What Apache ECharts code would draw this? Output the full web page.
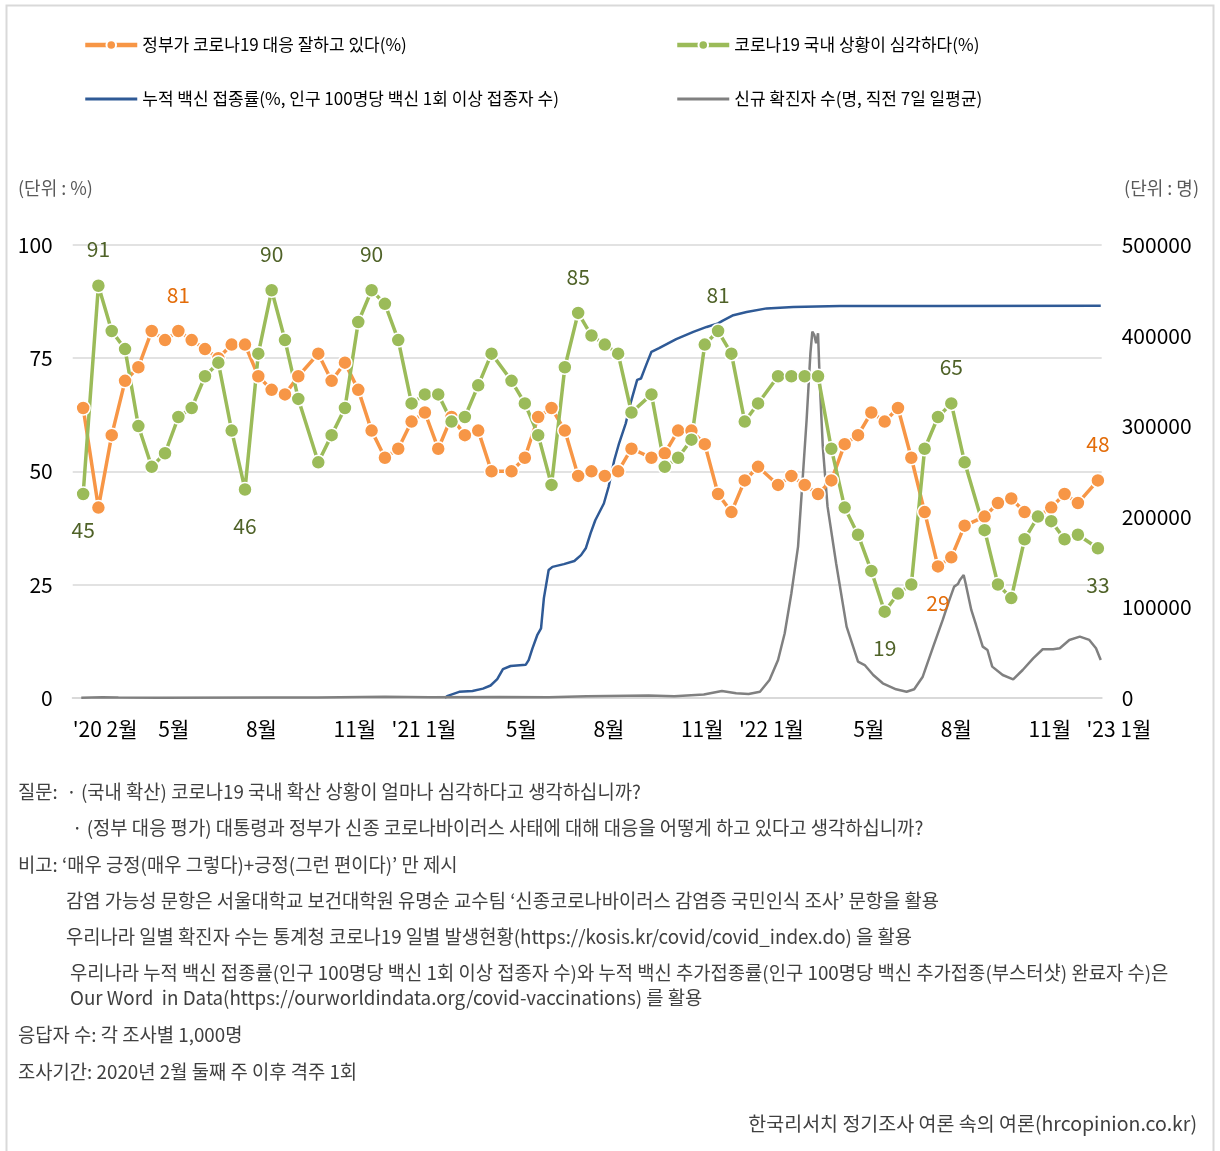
<!DOCTYPE html>
<html>
<head>
<meta charset="utf-8">
<script src="https://cdn.jsdelivr.net/npm/echarts@6/dist/echarts.min.js"></script>
<style>
  html, body { margin: 0; padding: 0; background: #fff; }
  #chart { width: 1220px; height: 1151px; }
</style>
</head>
<body>
<div id="chart"></div>
<script>
// 격주 조사 시점
const surveyDates = [
  '2020-02-12','2020-02-28','2020-03-13','2020-03-27','2020-04-10','2020-04-24','2020-05-08','2020-05-22',
  '2020-06-05','2020-06-19','2020-07-03','2020-07-17','2020-07-31','2020-08-14','2020-08-28','2020-09-11',
  '2020-09-25','2020-10-16','2020-10-30','2020-11-13','2020-11-27','2020-12-11','2020-12-25',
  '2021-01-08','2021-01-22','2021-02-05','2021-02-19','2021-03-05','2021-03-19','2021-04-02','2021-04-16',
  '2021-05-07','2021-05-21','2021-06-04','2021-06-18','2021-07-02','2021-07-16','2021-07-30','2021-08-13',
  '2021-08-27','2021-09-10','2021-10-01','2021-10-15','2021-10-29','2021-11-12','2021-11-26','2021-12-10','2021-12-24',
  '2022-01-07','2022-01-21','2022-02-11','2022-02-25','2022-03-11','2022-03-25','2022-04-08','2022-04-22',
  '2022-05-06','2022-05-20','2022-06-03','2022-06-17','2022-07-01','2022-07-15','2022-07-29','2022-08-12',
  '2022-08-26','2022-09-16','2022-09-30','2022-10-14','2022-10-28','2022-11-11','2022-11-25','2022-12-09','2022-12-23',
  '2023-01-13'
]
// 정부가 코로나19 대응 잘하고 있다(%)
const govGood = [
  64,42,58,70,73,81,79,81,79,77,75,78,78,71,68,67,71,76,70,74,68,59,53,
  55,61,63,55,62,58,59,50,50,53,62,64,59,49,50,49,50,55,53,54,59,59,56,45,41,
  48,51,47,49,47,45,48,56,58,63,61,64,53,41,29,31,38,40,43,44,41,40,42,45,43,
  48
]
// 코로나19 국내 상황이 심각하다(%)
const serious = [
  45,91,81,77,60,51,54,62,64,71,74,59,46,76,90,79,66,52,58,64,83,90,87,
  79,65,67,67,61,62,69,76,70,65,58,47,73,85,80,78,76,63,67,51,53,57,78,81,76,
  61,65,71,71,71,71,55,42,36,28,19,23,25,55,62,65,52,37,25,22,35,40,39,35,36,
  33
]
// 값 표시할 지점 (index)
const seriousLabelsUp = [1, 14, 21, 36, 46, 63]
const seriousLabelsDown = [0, 12, 58, 73]
const govLabelsUp = [7, 73]
const govLabelsDown = [62]

// 누적 백신 접종률(%)
const vaccineDates = [
  '2021-02-26','2021-03-01','2021-03-13','2021-03-27','2021-04-07','2021-04-15','2021-04-22','2021-04-28',
  '2021-05-06','2021-05-22','2021-05-25','2021-05-29','2021-06-03','2021-06-07','2021-06-10','2021-06-15',
  '2021-06-19','2021-07-01','2021-07-12','2021-07-19','2021-07-24','2021-07-29','2021-08-03','2021-08-12',
  '2021-08-17','2021-08-23','2021-08-28','2021-09-04','2021-09-09','2021-09-16','2021-09-20','2021-09-26',
  '2021-10-01','2021-10-09','2021-10-27','2021-11-14','2021-11-28','2021-12-10','2021-12-15','2021-12-26',
  '2022-01-09','2022-01-30','2022-02-27','2022-04-17','2022-07-31','2023-01-16'
]
const vaccineRate = [
  0,0.4,1.3,1.5,2.0,2.7,4.1,6.3,
  7.0,7.3,8.3,10.9,13.8,15.3,22.0,28.2,
  28.9,29.5,30.2,31.5,33.0,36.3,39.2,42.9,
  46.6,52.5,56.2,60.6,65.0,70.2,70.5,73.8,
  76.4,77.2,79.2,80.8,81.9,82.7,83.3,84.5,
  85.2,86.0,86.3,86.5,86.5,86.6
]

// 신규 확진자 수(명, 직전 7일 일평균)
const caseDates = [
  '2020-02-10','2020-03-03','2020-03-20','2020-05-01','2020-08-28','2020-10-15','2020-12-25','2021-02-10',
  '2021-04-25','2021-06-15','2021-07-25','2021-09-28','2021-10-25','2021-11-25','2021-12-14','2021-12-29',
  '2022-01-11','2022-01-23','2022-02-02','2022-02-11','2022-02-18','2022-02-25','2022-03-04','2022-03-09',
  '2022-03-13','2022-03-17','2022-03-19','2022-03-21','2022-03-23','2022-03-25','2022-03-27','2022-03-30',
  '2022-04-04','2022-04-13','2022-04-24','2022-05-06','2022-05-13','2022-05-22','2022-06-01','2022-06-15',
  '2022-06-26','2022-07-04','2022-07-13','2022-07-24','2022-08-03','2022-08-10','2022-08-15','2022-08-19',
  '2022-08-21','2022-08-25','2022-08-27','2022-09-02','2022-09-07','2022-09-14','2022-09-19','2022-09-24',
  '2022-10-05','2022-10-16','2022-10-26','2022-11-06','2022-11-16','2022-11-27','2022-12-04','2022-12-14',
  '2022-12-25','2023-01-04','2023-01-11','2023-01-16'
]
const caseAvg = [
  30,600,150,20,350,90,1050,400,
  650,500,1600,2400,1600,3500,7500,4900,
  4100,6600,19600,41700,71200,115400,166900,244200,
  306900,380600,404400,400800,391600,402600,343600,277300,
  211000,148500,78500,39800,36100,25100,15900,9300,
  6600,9300,23200,56400,85900,108000,122700,125600,
  130000,135600,126400,96900,80300,56400,52700,34300,
  25100,20300,30600,43500,53500,53500,54600,63800,
  67400,63800,54600,41700
]

// x축 라벨
const monthTicks = ['2020-02-01','2020-05-01','2020-08-01','2020-11-01','2021-01-01','2021-05-01','2021-08-01',
  '2021-11-01','2022-01-01','2022-05-01','2022-08-01','2022-11-01','2023-01-01']
const monthLabels = ["'20 2월",'5월','8월','11월',"'21 1월",'5월','8월','11월',"'22 1월",'5월','8월','11월',"'23 1월"]

const legendNames = [
  '정부가 코로나19 대응 잘하고 있다(%)',
  '코로나19 국내 상황이 심각하다(%)',
  '누적 백신 접종률(%, 인구 100명당 백신 1회 이상 접종자 수)',
  '신규 확진자 수(명, 직전 7일 일평균)'
]

const noteLines = [
  '질문:  · (국내 확산) 코로나19 국내 확산 상황이 얼마나 심각하다고 생각하십니까?',
  '· (정부 대응 평가) 대통령과 정부가 신종 코로나바이러스 사태에 대해 대응을 어떻게 하고 있다고 생각하십니까?',
  '비고: ‘매우 긍정(매우 그렇다)+긍정(그런 편이다)’ 만 제시',
  '감염 가능성 문항은 서울대학교 보건대학원 유명순 교수팀 ‘신종코로나바이러스 감염증 국민인식 조사’ 문항을 활용',
  '우리나라 일별 확진자 수는 통계청 코로나19 일별 발생현황(https://kosis.kr/covid/covid_index.do) 을 활용',
  '우리나라 누적 백신 접종률(인구 100명당 백신 1회 이상 접종자 수)와 누적 백신 추가접종률(인구 100명당 백신 추가접종(부스터샷) 완료자 수)은',
  'Our Word  in Data(https://ourworldindata.org/covid-vaccinations) 를 활용',
  '응답자 수: 각 조사별 1,000명',
  '조사기간: 2020년 2월 둘째 주 이후 격주 1회'
]
const sourceText = '한국리서치 정기조사 여론 속의 여론(hrcopinion.co.kr)'

const FONT = "'Noto Sans CJK KR', 'Noto Sans', sans-serif"
const toTime = s => { const p = s.split('-').map(Number); return new Date(p[0], p[1] - 1, p[2]).getTime() }
const tickValues = monthTicks.map(toTime)
const tickLabelMap = {}
tickValues.forEach((t, i) => { tickLabelMap[t] = monthLabels[i] })

function markPoints(values, up, down, color) {
  return values.map((v, i) => {
    let item = { value: [toTime(surveyDates[i]), v] }
    if (up.includes(i) || down.includes(i)) {
      item.label = {
        show: true,
        position: up.includes(i) ? 'top' : 'bottom',
        distance: 18,
        color: color,
        fontSize: 21,
        fontFamily: FONT,
        formatter: p => p.value[1]
      }
    }
    return item
  })
}

// 하단 주석 위치
const noteLayout = [[18, 792], [72, 828], [18, 865], [66, 901], [66, 937], [70, 973], [70, 998], [18, 1035], [18, 1072]]
const notes = noteLines.map((t, i) => ({
  type: 'text', x: noteLayout[i][0], y: noteLayout[i][1], silent: true,
  style: { text: t, fontSize: 18.8, fontFamily: FONT, fill: '#404040', textVerticalAlign: 'middle' }
}))

const legendBase = {
  orient: 'vertical', top: 30, itemGap: 34,
  itemWidth: 52, itemHeight: 12,
  textStyle: { fontSize: 17, color: '#000', lineHeight: 20 }
}

const chart = echarts.init(document.getElementById('chart'))
chart.setOption({
  animation: false,
  textStyle: { fontFamily: FONT },
  legend: [
    {
      ...legendBase, left: 78,
      data: [
        { name: legendNames[0], lineStyle: { width: 4.5 } },
        { name: legendNames[2], lineStyle: { width: 3 }, itemStyle: { opacity: 0 } }
      ]
    },
    {
      ...legendBase, left: 670,
      data: [
        { name: legendNames[1], lineStyle: { width: 4.5 } },
        { name: legendNames[3], lineStyle: { width: 3 }, itemStyle: { opacity: 0 } }
      ]
    }
  ],
  grid: { left: 72.7, right: 118.3, top: 245, bottom: 453.3 },
  xAxis: {
    type: 'value',
    min: toTime('2020-02-01'),
    max: toTime('2023-01-17'),
    axisLine: { lineStyle: { color: '#d9d9d9', width: 2 } },
    axisTick: { show: false },
    splitLine: { show: false },
    axisLabel: {
      customValues: tickValues,
      formatter: v => tickLabelMap[v] || '',
      align: 'left',
      margin: 21,
      fontSize: 21,
      color: '#000'
    }
  },
  yAxis: [
    {
      type: 'value', min: 0, max: 100, interval: 25,
      axisLine: { show: false }, axisTick: { show: false },
      axisLabel: { fontSize: 21, color: '#000', margin: 20 },
      splitLine: { lineStyle: { color: '#d9d9d9', width: 1.5 } }
    },
    {
      type: 'value', min: 0, max: 500000, interval: 100000,
      axisLine: { show: false }, axisTick: { show: false },
      axisLabel: { fontSize: 21, color: '#000', margin: 20, formatter: v => String(v) },
      splitLine: { show: false }
    }
  ],
  series: [
    {
      name: legendNames[2], type: 'line', yAxisIndex: 0,
      data: vaccineDates.map((d, i) => [toTime(d), vaccineRate[i]]),
      symbol: 'none', color: '#2f5a96',
      lineStyle: { width: 2.5, color: '#2f5a96' }
    },
    {
      name: legendNames[3], type: 'line', yAxisIndex: 1,
      data: caseDates.map((d, i) => [toTime(d), caseAvg[i]]),
      symbol: 'none', color: '#808080',
      lineStyle: { width: 2.5, color: '#808080' }
    },
    {
      name: legendNames[0], type: 'line', yAxisIndex: 0,
      data: markPoints(govGood, govLabelsUp, govLabelsDown, '#e36c09'),
      symbol: 'circle', symbolSize: 14, color: '#f79646',
      lineStyle: { width: 3.5, color: '#f79646' },
      itemStyle: { color: '#f79646', borderColor: '#fff', borderWidth: 1.5 }
    },
    {
      name: legendNames[1], type: 'line', yAxisIndex: 0,
      data: markPoints(serious, seriousLabelsUp, seriousLabelsDown, '#4f6228'),
      symbol: 'circle', symbolSize: 14, color: '#9bbb59',
      lineStyle: { width: 3.5, color: '#9bbb59' },
      itemStyle: { color: '#9bbb59', borderColor: '#fff', borderWidth: 1.5 }
    }
  ],
  graphic: [
    {
      type: 'rect', silent: true,
      shape: { x: 6.5, y: 5.5, width: 1207, height: 1160 },
      style: { fill: 'none', stroke: '#d9d9d9', lineWidth: 2 }
    },
    {
      type: 'text', x: 18, y: 188, silent: true,
      style: { text: '(단위 : %)', fontSize: 18, fontFamily: FONT, fill: '#595959', textVerticalAlign: 'middle' }
    },
    {
      type: 'text', x: 1199, y: 188, silent: true,
      style: { text: '(단위 : 명)', fontSize: 18, fontFamily: FONT, fill: '#595959', textAlign: 'right', textVerticalAlign: 'middle' }
    },
    ...notes,
    {
      type: 'text', x: 1197, y: 1124, silent: true,
      style: { text: sourceText, fontSize: 19.5, fontFamily: FONT, fill: '#404040', textAlign: 'right', textVerticalAlign: 'middle' }
    }
  ]
})
</script>
</body>
</html>
